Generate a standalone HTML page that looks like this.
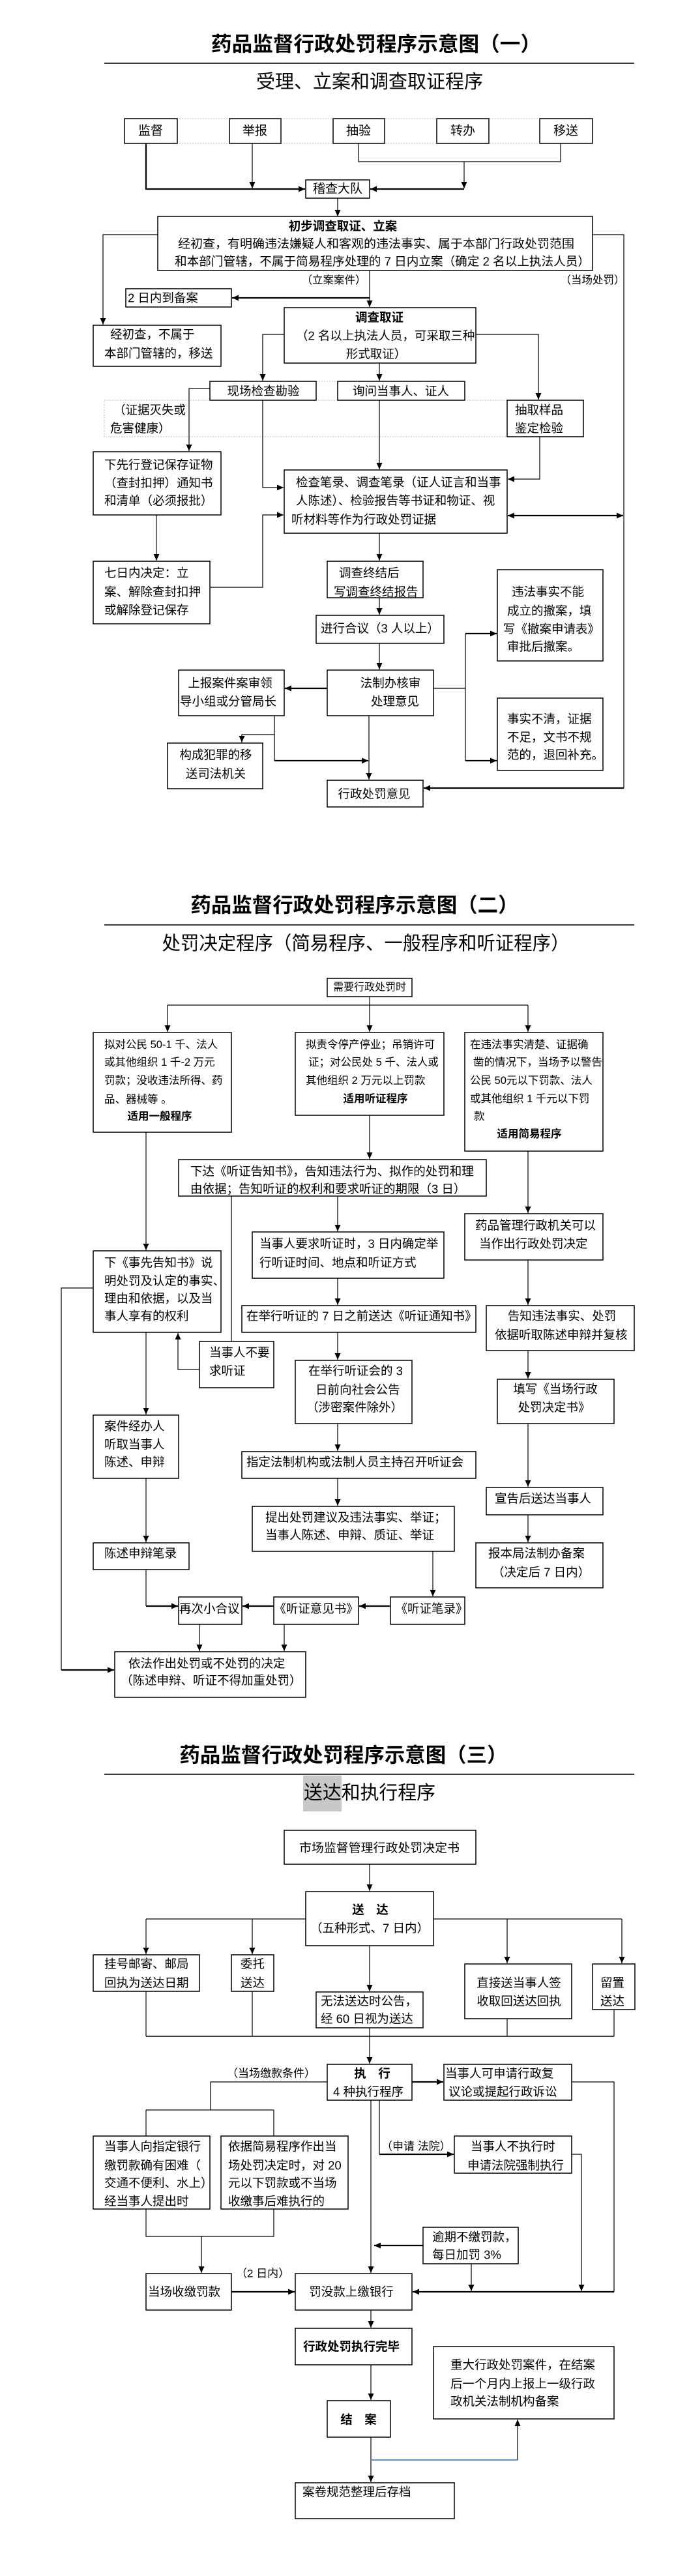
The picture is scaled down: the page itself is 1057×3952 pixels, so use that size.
<!DOCTYPE html>
<html><head><meta charset="utf-8">
<style>
html,body{margin:0;padding:0;background:#fff;}
svg{display:block;}
text{font-family:"Liberation Sans","Noto Sans CJK SC",sans-serif;font-size:18.5px;fill:#000;dominant-baseline:central;}
.t{font-size:31px;font-weight:700;text-anchor:middle;}
.st{font-size:29px;}
.c{text-anchor:middle;}
.bd{font-weight:700;}
.s16{font-size:16.5px;}
.s17{font-size:17px;}
.s19{font-size:19px;}
rect.b{fill:#fff;stroke:#000;stroke-width:1.5;}
.l{fill:none;stroke:#000;stroke-width:1.2;}
.k{fill:none;stroke:#000;stroke-width:2.2;}
.d{fill:none;stroke:#bbb;stroke-width:1;stroke-dasharray:2,2;}
</style></head>
<body>
<svg width="1057" height="3952" viewBox="0 0 1057 3952" xmlns="http://www.w3.org/2000/svg">
<defs>
<marker id="a" markerWidth="11" markerHeight="10" refX="10" refY="5" orient="auto" markerUnits="userSpaceOnUse"><path d="M0,0.5 L10,5 L0,9.5 z" fill="#000"/></marker>
<marker id="s" markerWidth="11" markerHeight="10" refX="0" refY="5" orient="auto" markerUnits="userSpaceOnUse"><path d="M10,0.5 L0,5 L10,9.5 z" fill="#000"/></marker>
</defs>

<!-- ================= SECTION 1 ================= -->
<text class="t" x="577" y="68" textLength="506" lengthAdjust="spacingAndGlyphs">药品监督行政处罚程序示意图（一）</text>
<line x1="160" y1="97" x2="973" y2="97" stroke="#000" stroke-width="1.5"/>
<text class="st c" x="567" y="126">受理、立案和调查取证程序</text>

<!-- dotted guides -->
<line class="d" x1="191" y1="182" x2="909" y2="182"/>
<line class="d" x1="191" y1="220" x2="909" y2="220"/>
<rect class="d" x="160" y="614" width="618" height="56"/>
<line class="d" x1="485" y1="585" x2="518" y2="585"/>

<!-- connectors -->
<polyline class="k" points="224,220 224,290 468,290" marker-end="url(#a)"/>
<line class="l" x1="387" y1="220" x2="387" y2="289" marker-end="url(#a)"/>
<polyline class="l" points="550,220 550,248 860,248 860,220"/>
<line class="l" x1="712" y1="248" x2="712" y2="289" marker-end="url(#a)"/>
<line class="k" x1="712" y1="290" x2="568" y2="290" marker-end="url(#a)"/>
<line class="l" x1="518" y1="304" x2="518" y2="332" marker-end="url(#a)"/>
<polyline class="l" points="242,360 158,360 158,498" marker-end="url(#a)"/>
<polyline class="l" points="909,360 957,360 957,1209"/>
<line class="k" x1="957" y1="1209" x2="650" y2="1209" marker-end="url(#a)"/>
<line class="l" x1="567" y1="415" x2="567" y2="471" marker-end="url(#a)"/>
<line class="k" x1="567" y1="457" x2="356" y2="457" marker-end="url(#a)"/>
<polyline class="l" points="436,513 403,513 403,584" marker-end="url(#a)"/>
<line class="l" x1="582" y1="557" x2="582" y2="584" marker-end="url(#a)"/>
<polyline class="l" points="730,513 826,513 826,613" marker-end="url(#a)"/>
<polyline class="l" points="322,596 290,596 290,692" marker-end="url(#a)"/>
<polyline class="l" points="403,614 403,748 435,748" marker-end="url(#a)"/>
<line class="l" x1="582" y1="614" x2="582" y2="720" marker-end="url(#a)"/>
<polyline class="l" points="828,670 828,735 779,735" marker-end="url(#a)"/>
<line class="k" x1="779" y1="791" x2="956" y2="791" marker-start="url(#s)" marker-end="url(#a)"/>
<polyline class="l" points="322,901 403,901 403,790 435,790" marker-end="url(#a)"/>
<line class="l" x1="240" y1="790" x2="240" y2="860" marker-end="url(#a)"/>
<line class="l" x1="582" y1="818" x2="582" y2="860" marker-end="url(#a)"/>
<line class="l" x1="582" y1="917" x2="582" y2="943" marker-end="url(#a)"/>
<line class="l" x1="582" y1="987" x2="582" y2="1027" marker-end="url(#a)"/>
<line class="k" x1="502" y1="1056" x2="437" y2="1056" marker-end="url(#a)"/>
<polyline class="l" points="421,1098 421,1167"/>
<line class="k" x1="421" y1="1167" x2="565" y2="1167" marker-end="url(#a)"/>
<polyline class="l" points="421,1127 371,1127 371,1139" marker-end="url(#a)"/>
<line class="l" x1="566" y1="1098" x2="566" y2="1196" marker-end="url(#a)"/>
<polyline class="l" points="665,1056 714,1056"/>
<line class="l" x1="714" y1="972" x2="714" y2="1167"/>
<line class="k" x1="714" y1="972" x2="762" y2="972" marker-end="url(#a)"/>
<line class="k" x1="714" y1="1167" x2="762" y2="1167" marker-end="url(#a)"/>

<!-- boxes -->
<rect class="b" x="191" y="182" width="81" height="38"/>
<rect class="b" x="352" y="182" width="79" height="38"/>
<rect class="b" x="511" y="182" width="79" height="38"/>
<rect class="b" x="670" y="182" width="80" height="38"/>
<rect class="b" x="828" y="182" width="81" height="38"/>
<rect class="b" x="469" y="276" width="98" height="28"/>
<rect class="b" x="242" y="332" width="667" height="83"/>
<rect class="b" x="193" y="443" width="162" height="28"/>
<rect class="b" x="143" y="499" width="196" height="63"/>
<rect class="b" x="436" y="472" width="294" height="85"/>
<rect class="b" x="322" y="585" width="163" height="29"/>
<rect class="b" x="518" y="585" width="195" height="29"/>
<rect class="b" x="778" y="614" width="117" height="56"/>
<rect class="b" x="143" y="693" width="196" height="97"/>
<rect class="b" x="436" y="721" width="342" height="97"/>
<rect class="b" x="143" y="861" width="179" height="96"/>
<rect class="b" x="502" y="861" width="147" height="56"/>
<rect class="b" x="485" y="944" width="196" height="43"/>
<rect class="b" x="502" y="1028" width="163" height="70"/>
<rect class="b" x="274" y="1028" width="162" height="70"/>
<rect class="b" x="257" y="1140" width="146" height="70"/>
<rect class="b" x="502" y="1197" width="147" height="41"/>
<rect class="b" x="763" y="874" width="162" height="140"/>
<rect class="b" x="763" y="1071" width="162" height="111"/>

<!-- texts -->
<text class="c s19" x="231" y="201">监督</text>
<text class="c s19" x="391" y="201">举报</text>
<text class="c s19" x="550" y="201">抽验</text>
<text class="c s19" x="710" y="201">转办</text>
<text class="c s19" x="868" y="201">移送</text>
<text class="c s19" x="518" y="290">稽查大队</text>
<text class="c bd" x="526" y="347">初步调查取证、立案</text>
<text x="273" y="374" textLength="608" lengthAdjust="spacingAndGlyphs">经初查，有明确违法嫌疑人和客观的违法事实、属于本部门行政处罚范围</text>
<text x="268" y="401" textLength="637" lengthAdjust="spacingAndGlyphs">和本部门管辖，不属于简易程序处理的 7 日内立案（确定 2 名以上执法人员）</text>
<text class="c s16" x="512" y="430">（立案案件）</text>
<text class="c s16" x="909" y="430">（当场处罚）</text>
<text x="196" y="457">2 日内到备案</text>
<text x="169" y="513">经初查，不属于</text>
<text x="160" y="542">本部门管辖的，移送</text>
<text class="c bd" x="582" y="487">调查取证</text>
<text x="454" y="515">（2 名以上执法人员，可采取三种</text>
<text class="c" x="577" y="543">形式取证）</text>
<text class="c" x="404" y="600">现场检查勘验</text>
<text class="c" x="615" y="600">询问当事人、证人</text>
<text x="174" y="629">（证据灭失或</text>
<text x="169" y="657">危害健康）</text>
<text x="790" y="629">抽取样品</text>
<text x="790" y="657">鉴定检验</text>
<text x="160" y="713">下先行登记保存证物</text>
<text x="160" y="741">（查封扣押）通知书</text>
<text x="160" y="768">和清单（必须报批）</text>
<text x="454" y="740">检查笔录、调查笔录（证人证言和当事</text>
<text x="454" y="768">人陈述）、检验报告等书证和物证、视</text>
<text x="447" y="797">听材料等作为行政处罚证据</text>
<text x="160" y="879">七日内决定：立</text>
<text x="160" y="908">案、解除查封扣押</text>
<text x="160" y="936">或解除登记保存</text>
<text x="520" y="879">调查终结后</text>
<text x="512" y="908">写调查终结报告</text>
<text x="492" y="964">进行合议（3 人以上）</text>
<text class="c" x="599" y="1048">法制办核审</text>
<text class="c" x="606" y="1076">处理意见</text>
<text class="c" x="353" y="1048">上报案件案审领</text>
<text class="c" x="350" y="1076">导小组或分管局长</text>
<text class="c" x="331" y="1158">构成犯罪的移</text>
<text class="c" x="331" y="1187">送司法机关</text>
<text class="c" x="574" y="1218">行政处罚意见</text>
<text x="785" y="908">违法事实不能</text>
<text x="778" y="937">成立的撤案，填</text>
<text x="772" y="965">写《撤案申请表》</text>
<text x="778" y="992">审批后撤案。</text>
<text x="778" y="1103">事实不清，证据</text>
<text x="778" y="1131">不足，文书不规</text>
<text x="778" y="1158">范的，退回补充。</text>

<!-- ================= SECTION 2 ================= -->
<text class="t" x="544" y="1389" textLength="503" lengthAdjust="spacingAndGlyphs">药品监督行政处罚程序示意图（二）</text>
<line x1="160" y1="1419" x2="973" y2="1419" stroke="#000" stroke-width="1.5"/>
<text class="st c" x="561" y="1448" textLength="625" lengthAdjust="spacingAndGlyphs">处罚决定程序（简易程序、一般程序和听证程序）</text>

<line class="l" x1="567" y1="1529" x2="567" y2="1542"/>
<line class="l" x1="257" y1="1542" x2="810" y2="1542"/>
<line class="l" x1="257" y1="1542" x2="257" y2="1583" marker-end="url(#a)"/>
<line class="l" x1="567" y1="1542" x2="567" y2="1583" marker-end="url(#a)"/>
<line class="l" x1="810" y1="1542" x2="810" y2="1583" marker-end="url(#a)"/>
<line class="l" x1="567" y1="1711" x2="567" y2="1778" marker-end="url(#a)"/>
<line class="l" x1="224" y1="1737" x2="224" y2="1918" marker-end="url(#a)"/>
<line class="l" x1="810" y1="1766" x2="810" y2="1861" marker-end="url(#a)"/>
<line class="l" x1="518" y1="1835" x2="518" y2="1889" marker-end="url(#a)"/>
<line class="l" x1="355" y1="1835" x2="355" y2="2058"/>
<line class="l" x1="518" y1="1961" x2="518" y2="2002" marker-end="url(#a)"/>
<line class="l" x1="810" y1="1933" x2="810" y2="2002" marker-end="url(#a)"/>
<polyline class="l" points="143,1976 94,1976 94,2562"/>
<line class="k" x1="94" y1="2562" x2="175" y2="2562" marker-end="url(#a)"/>
<polyline class="l" points="306,2101 273,2101 273,2045" marker-end="url(#a)"/>
<line class="l" x1="224" y1="2044" x2="224" y2="2170" marker-end="url(#a)"/>
<line class="l" x1="518" y1="2044" x2="518" y2="2086" marker-end="url(#a)"/>
<line class="l" x1="810" y1="2072" x2="810" y2="2115" marker-end="url(#a)"/>
<line class="l" x1="224" y1="2268" x2="224" y2="2366" marker-end="url(#a)"/>
<polyline class="l" points="224,2408 224,2464"/>
<line class="k" x1="224" y1="2464" x2="273" y2="2464" marker-end="url(#a)"/>
<line class="l" x1="518" y1="2184" x2="518" y2="2226" marker-end="url(#a)"/>
<line class="l" x1="518" y1="2268" x2="518" y2="2310" marker-end="url(#a)"/>
<line class="l" x1="664" y1="2380" x2="664" y2="2449" marker-end="url(#a)"/>
<line class="k" x1="599" y1="2464" x2="551" y2="2464" marker-end="url(#a)"/>
<line class="k" x1="420" y1="2464" x2="372" y2="2464" marker-end="url(#a)"/>
<line class="l" x1="306" y1="2492" x2="306" y2="2533" marker-end="url(#a)"/>
<line class="l" x1="436" y1="2492" x2="436" y2="2533" marker-end="url(#a)"/>
<line class="l" x1="810" y1="2184" x2="810" y2="2281" marker-end="url(#a)"/>
<line class="l" x1="810" y1="2324" x2="810" y2="2366" marker-end="url(#a)"/>

<rect class="b" x="502" y="1501" width="130" height="28"/>
<rect class="b" x="143" y="1584" width="212" height="153"/>
<rect class="b" x="453" y="1584" width="228" height="127"/>
<rect class="b" x="713" y="1584" width="212" height="182"/>
<rect class="b" x="274" y="1779" width="472" height="56"/>
<rect class="b" x="713" y="1862" width="212" height="71"/>
<rect class="b" x="387" y="1890" width="294" height="71"/>
<rect class="b" x="371" y="2003" width="359" height="41"/>
<rect class="b" x="746" y="2003" width="227" height="69"/>
<rect class="b" x="143" y="1919" width="196" height="125"/>
<rect class="b" x="306" y="2058" width="114" height="71"/>
<rect class="b" x="453" y="2087" width="179" height="97"/>
<rect class="b" x="763" y="2116" width="179" height="68"/>
<rect class="b" x="143" y="2171" width="131" height="97"/>
<rect class="b" x="143" y="2367" width="147" height="41"/>
<rect class="b" x="371" y="2227" width="359" height="41"/>
<rect class="b" x="387" y="2311" width="310" height="69"/>
<rect class="b" x="599" y="2450" width="114" height="42"/>
<rect class="b" x="420" y="2450" width="130" height="42"/>
<rect class="b" x="274" y="2450" width="97" height="42"/>
<rect class="b" x="176" y="2534" width="293" height="70"/>
<rect class="b" x="746" y="2282" width="179" height="42"/>
<rect class="b" x="730" y="2367" width="195" height="69"/>

<text class="c" x="567" y="1515" style="font-size:16px">需要行政处罚时</text>
<text class="s16" x="160" y="1603">拟对公民 50-1 千、法人</text>
<text class="s16" x="160" y="1630">或其他组织 1 千-2 万元</text>
<text class="s16" x="160" y="1658">罚款；没收违法所得、药</text>
<text class="s16" x="160" y="1687">品、器械等 。</text>
<text class="s16 bd c" x="245" y="1713">适用一般程序</text>
<text class="s16" x="469" y="1603">拟责令停产停业；吊销许可</text>
<text class="s16" x="473" y="1630">证；对公民处 5 千、法人或</text>
<text class="s16" x="469" y="1658">其他组织 2 万元以上罚款</text>
<text class="s16 bd c" x="576" y="1686">适用听证程序</text>
<text class="s16" x="721" y="1603">在违法事实清楚、证据确</text>
<text class="s16" x="726" y="1630">凿的情况下，当场予以警告</text>
<text class="s16" x="721" y="1658">公民 50元以下罚款、法人</text>
<text class="s16" x="721" y="1686">或其他组织 1 千元以下罚</text>
<text class="s16" x="727" y="1713">款</text>
<text class="s16 bd c" x="812" y="1740">适用简易程序</text>
<text x="292" y="1797">下达《听证告知书》，告知违法行为、拟作的处罚和理</text>
<text x="292" y="1824">由依据；告知听证的权利和要求听证的期限（3 日）</text>
<text x="729" y="1880">药品管理行政机关可以</text>
<text x="735" y="1908">当作出行政处罚决定</text>
<text x="398" y="1908">当事人要求听证时，3 日内确定举</text>
<text x="398" y="1937">行听证时间、地点和听证方式</text>
<text x="378" y="2019">在举行听证的 7 日之前送达《听证通知书》</text>
<text class="c" x="862" y="2019">告知违法事实、处罚</text>
<text x="759" y="2048">依据听取陈述申辩并复核</text>
<text x="160" y="1937">下《事先告知书》说</text>
<text x="160" y="1965">明处罚及认定的事实、</text>
<text x="160" y="1992">理由和依据，以及当</text>
<text x="160" y="2019">事人享有的权利</text>
<text x="321" y="2075">当事人不要</text>
<text x="321" y="2103">求听证</text>
<text x="473" y="2103">在举行听证会的 3</text>
<text x="484" y="2132">日前向社会公告</text>
<text x="470" y="2159">（涉密案件除外）</text>
<text class="c" x="852" y="2131">填写《当场行政</text>
<text class="c" x="850" y="2159">处罚决定书》</text>
<text x="160" y="2188">案件经办人</text>
<text x="160" y="2216">听取当事人</text>
<text x="160" y="2243">陈述、申辩</text>
<text x="160" y="2383">陈述申辩笔录</text>
<text x="378" y="2243">指定法制机构或法制人员主持召开听证会</text>
<text x="407" y="2328">提出处罚建议及违法事实、举证；</text>
<text x="407" y="2355">当事人陈述、申辩、质证、举证</text>
<text class="c" x="662" y="2468">《听证笔录》</text>
<text class="c" x="485" y="2468">《听证意见书》</text>
<text x="275" y="2468">再次小合议</text>
<text x="197" y="2552">依法作出处罚或不处罚的决定</text>
<text x="185" y="2578">（陈述申辩、听证不得加重处罚）</text>
<text x="759" y="2299">宣告后送达当事人</text>
<text x="749" y="2383">报本局法制办备案</text>
<text x="755" y="2412">（决定后 7 日内）</text>

<!-- ================= SECTION 3 ================= -->
<text class="t" x="527" y="2693" textLength="503" lengthAdjust="spacingAndGlyphs">药品监督行政处罚程序示意图（三）</text>
<line x1="160" y1="2722" x2="973" y2="2722" stroke="#000" stroke-width="1.5"/>
<rect x="465" y="2724" width="59" height="55" fill="#c8c8c8"/>
<text class="st" x="466" y="2751" textLength="202" lengthAdjust="spacingAndGlyphs">送达和执行程序</text>

<line class="l" x1="567" y1="2860" x2="567" y2="2901" marker-end="url(#a)"/>
<line class="l" x1="224" y1="2944" x2="954" y2="2944"/>
<line class="l" x1="224" y1="2944" x2="224" y2="2998" marker-end="url(#a)"/>
<line class="l" x1="387" y1="2944" x2="387" y2="2998" marker-end="url(#a)"/>
<line class="l" x1="778" y1="2944" x2="778" y2="3012" marker-end="url(#a)"/>
<line class="l" x1="954" y1="2944" x2="954" y2="3012" marker-end="url(#a)"/>
<line class="l" x1="567" y1="2985" x2="567" y2="3055" marker-end="url(#a)"/>
<line class="l" x1="224" y1="3055" x2="224" y2="3124"/>
<line class="l" x1="387" y1="3055" x2="387" y2="3124"/>
<line class="l" x1="778" y1="3097" x2="778" y2="3124"/>
<line class="l" x1="942" y1="3083" x2="942" y2="3124"/>
<line x1="224" y1="3124" x2="942" y2="3124" stroke="#000" stroke-width="1.6"/>
<line class="l" x1="567" y1="3111" x2="567" y2="3166" marker-end="url(#a)"/>
<polyline class="l" points="502,3194 323,3194 323,3237"/>
<line class="l" x1="224" y1="3237" x2="420" y2="3237"/>
<line class="l" x1="224" y1="3237" x2="224" y2="3277"/>
<line class="l" x1="420" y1="3237" x2="420" y2="3277"/>
<line class="k" x1="632" y1="3194" x2="680" y2="3194" marker-end="url(#a)"/>
<polyline class="l" points="877,3194 942,3194 942,3516"/>
<line class="k" x1="942" y1="3516" x2="633" y2="3516" marker-end="url(#a)"/>
<polyline class="l" points="582,3222 582,3305"/>
<line class="k" x1="582" y1="3305" x2="696" y2="3305" marker-end="url(#a)"/>
<line class="l" x1="569" y1="3222" x2="569" y2="3487" marker-end="url(#a)"/>
<polyline class="l" points="877,3305 892,3305 892,3515" marker-end="url(#a)"/>
<polyline class="l" points="224,3389 224,3431 420,3431 420,3389"/>
<line class="l" x1="309" y1="3431" x2="309" y2="3487" marker-end="url(#a)"/>
<line class="k" x1="649" y1="3445" x2="574" y2="3445" marker-end="url(#a)"/>
<line class="l" x1="723" y1="3473" x2="723" y2="3515" marker-end="url(#a)"/>
<line class="k" x1="355" y1="3516" x2="452" y2="3516" marker-end="url(#a)"/>
<line class="l" x1="569" y1="3544" x2="569" y2="3571" marker-end="url(#a)"/>
<line class="l" x1="569" y1="3628" x2="569" y2="3682" marker-end="url(#a)"/>
<line class="l" x1="569" y1="3739" x2="569" y2="3808" marker-end="url(#a)"/>
<line x1="569" y1="3774" x2="794" y2="3774" stroke="#6f93b8" stroke-width="2.2"/>
<line class="l" x1="794" y1="3774" x2="794" y2="3712" marker-end="url(#a)"/>

<rect class="b" x="436" y="2808" width="294" height="52"/>
<rect class="b" x="469" y="2902" width="196" height="83"/>
<rect class="b" x="143" y="2999" width="163" height="56"/>
<rect class="b" x="355" y="2999" width="65" height="56"/>
<rect class="b" x="485" y="3056" width="164" height="55"/>
<rect class="b" x="713" y="3013" width="164" height="84"/>
<rect class="b" x="909" y="3013" width="65" height="70"/>
<rect class="b" x="502" y="3167" width="130" height="55"/>
<rect class="b" x="681" y="3167" width="196" height="55"/>
<rect class="b" x="697" y="3277" width="180" height="57"/>
<rect class="b" x="143" y="3277" width="179" height="112"/>
<rect class="b" x="339" y="3277" width="195" height="112"/>
<rect class="b" x="649" y="3417" width="146" height="56"/>
<rect class="b" x="224" y="3488" width="131" height="56"/>
<rect class="b" x="453" y="3488" width="179" height="56"/>
<rect class="b" x="453" y="3572" width="179" height="56"/>
<rect class="b" x="502" y="3683" width="97" height="56"/>
<rect class="b" x="665" y="3600" width="277" height="111"/>
<rect class="b" x="453" y="3809" width="244" height="55"/>

<text class="c" x="582" y="2835" textLength="246" lengthAdjust="spacingAndGlyphs">市场监督管理行政处罚决定书</text>
<text class="c bd" x="568" y="2930">送　达</text>
<text class="c" x="567" y="2958">（五种形式、7 日内）</text>
<text x="160" y="3013">挂号邮寄、邮局</text>
<text x="160" y="3042">回执为送达日期</text>
<text x="369" y="3013">委托</text>
<text x="369" y="3042">送达</text>
<text x="492" y="3070">无法送达时公告，</text>
<text x="492" y="3097">经 60 日视为送达</text>
<text class="c" x="796" y="3042">直接送当事人签</text>
<text class="c" x="796" y="3070">收取回送达回执</text>
<text x="921" y="3042">留置</text>
<text x="921" y="3070">送达</text>
<text class="c bd" x="571" y="3181">执　行</text>
<text class="c" x="565" y="3209">4 种执行程序</text>
<text class="c s17" x="416" y="3181">（当场缴款条件）</text>
<text x="683" y="3181">当事人可申请行政复</text>
<text x="688" y="3209">议论或提起行政诉讼</text>
<text class="s17" x="585" y="3293">（申请 法院）</text>
<text x="722" y="3293">当事人不执行时</text>
<text x="717" y="3322">申请法院强制执行</text>
<text x="160" y="3293">当事人向指定银行</text>
<text x="160" y="3322">缴罚款确有困难（</text>
<text x="160" y="3349">交通不便利、水上）</text>
<text x="160" y="3377">经当事人提出时</text>
<text x="350" y="3293">依据简易程序作出当</text>
<text x="350" y="3322">场处罚决定时，对 20</text>
<text x="350" y="3349">元以下罚款或不当场</text>
<text x="350" y="3377">收缴事后难执行的</text>
<text x="663" y="3432">逾期不缴罚款，</text>
<text x="663" y="3459">每日加罚 3%</text>
<text x="227" y="3516">当场收缴罚款</text>
<text class="s17" x="362" y="3488">（2 日内）</text>
<text class="c" x="539" y="3516">罚没款上缴银行</text>
<text class="c bd" x="539" y="3600">行政处罚执行完毕</text>
<text class="c bd" x="550" y="3712">结　案</text>
<text x="691" y="3628">重大行政处罚案件，在结案</text>
<text x="691" y="3657">后一个月内上报上一级行政</text>
<text x="691" y="3684">政机关法制机构备案</text>
<text x="464" y="3823">案卷规范整理后存档</text>
</svg>
</body></html>
